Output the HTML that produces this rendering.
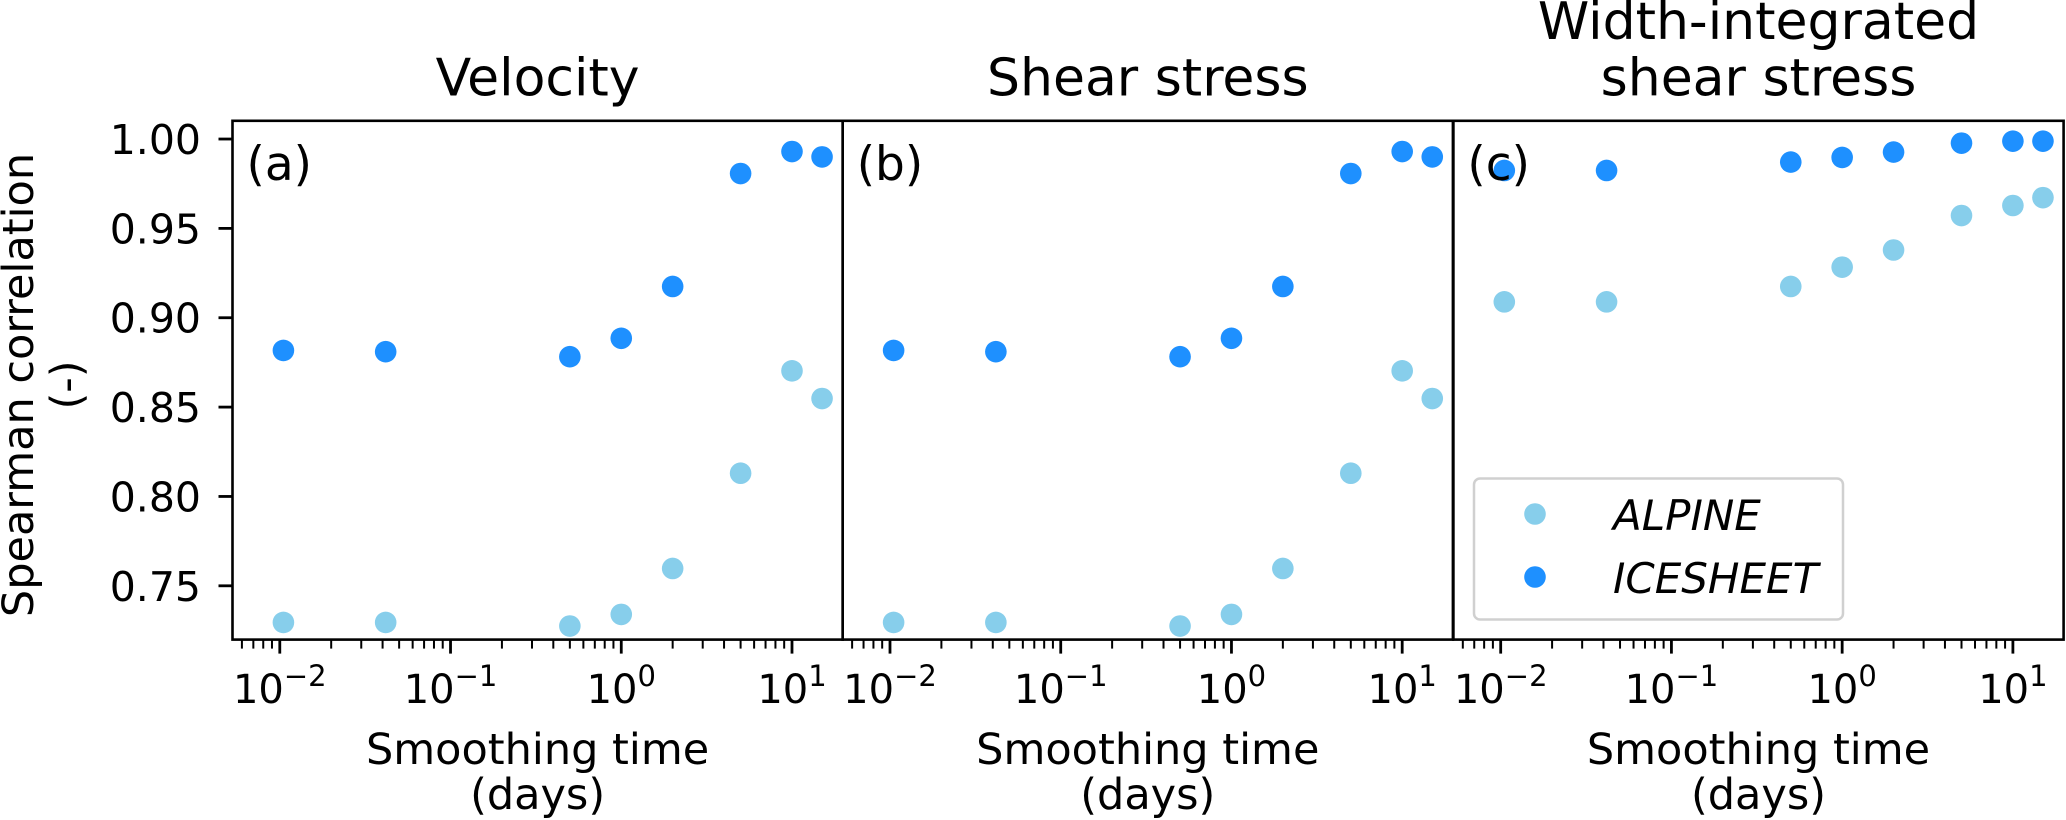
<!DOCTYPE html>
<html><head><meta charset="utf-8">
<style>
html,body{margin:0;padding:0;background:#fff;}
svg{display:block;font-family:"DejaVu Sans","Liberation Sans",sans-serif;}
</style></head>
<body>
<svg id="chart" width="2066" height="820" viewBox="0 0 2066 820" xmlns="http://www.w3.org/2000/svg"></svg>
<script>
// ---- data ----
const smoothingDays = [0.0105, 0.0417, 0.5, 1, 2, 5, 10, 15];
const panelTitles = [["Velocity"], ["Shear stress"], ["Width-integrated", "shear stress"]];
const panelLabels = ["(a)", "(b)", "(c)"];
const alpineVelocity = [0.7295, 0.7295, 0.7275, 0.734, 0.7597, 0.813, 0.8703, 0.8548];
const icesheetVelocity = [0.8817, 0.881, 0.8782, 0.8885, 0.9175, 0.9807, 0.993, 0.990];
const alpineShear = [0.7295, 0.7295, 0.7275, 0.734, 0.7597, 0.813, 0.8703, 0.8548];
const icesheetShear = [0.8817, 0.881, 0.8782, 0.8885, 0.9175, 0.9807, 0.993, 0.990];
const alpineWidth = [0.9089, 0.9089, 0.9175, 0.9283, 0.9379, 0.9572, 0.9628, 0.9672];
const icesheetWidth = [0.9824, 0.9824, 0.9871, 0.9897, 0.9927, 0.9977, 0.9988, 0.9988];
const yTicks = [0.75, 0.80, 0.85, 0.90, 0.95, 1.00];
const yTickLabels = ["0.75", "0.80", "0.85", "0.90", "0.95", "1.00"];
const xTickExps = [-2, -1, 0, 1];
const seriesNames = ["ALPINE", "ICESHEET"];
const seriesColors = ["#87CEEB", "#1E90FF"];

const NS = "http://www.w3.org/2000/svg";
const svg = document.getElementById("chart");
function mk(tag, attrs, parent) {
  const e = document.createElementNS(NS, tag);
  for (const k in attrs) e.setAttribute(k, attrs[k]);
  (parent || svg).appendChild(e);
  return e;
}
const panelLefts = [232.5, 842.7, 1453.4];
const pw = 610.2, plotTop = 120.8, plotBottom = 639.6;
const xMin = -2.277, xMax = 1.297, yMin = 0.7199, yMax = 1.0102;
const yScale = v => plotBottom - (v - yMin) / (yMax - yMin) * (plotBottom - plotTop);
const panelData = [[alpineVelocity, icesheetVelocity], [alpineShear, icesheetShear], [alpineWidth, icesheetWidth]];

panelLefts.forEach((L, p) => {
  const xScale = d => L + (Math.log10(d) - xMin) / (xMax - xMin) * pw;
  const g = mk("g", {});
  
  
  const lines = panelTitles[p];
  lines.forEach((t, i) => {
    const tt = mk("text", {x: L + pw / 2, y: 95.7 - (lines.length - 1 - i) * 56.7, "text-anchor": "middle", "font-size": "52"}, g);
    tt.textContent = t;
    
    
  });
  for (let e = -3; e <= 1; e++) {
    for (let m = 2; m <= 9; m++) {
      const lv = e + Math.log10(m);
      if (lv < xMin || lv > xMax) continue;
      const x = xScale(Math.pow(10, lv));
      const t = mk("line", {x1: x, x2: x, y1: plotBottom, y2: plotBottom + 9, stroke: "#000", "stroke-width": 2}, g);
      
      
    }
  }
  xTickExps.forEach(e => {
    const x = xScale(Math.pow(10, e));
    const t = mk("line", {x1: x, x2: x, y1: plotBottom, y2: plotBottom + 14, stroke: "#000", "stroke-width": 2.8}, g);
    
    
    const lab = mk("text", {x: x, y: 703, "text-anchor": "middle", "font-size": "40"}, g);
    
    
    const b = mk("tspan", {}, lab); b.textContent = "10";
    const s = mk("tspan", {dy: -17, "font-size": "29"}, lab); s.textContent = e < 0 ? "\u2212" + (-e) : String(e);
  });
  if (p === 0) {
    yTicks.forEach((v, i) => {
      const y = yScale(v);
      const t = mk("line", {x1: L - 14, x2: L, y1: y, y2: y, stroke: "#000", "stroke-width": 2.8}, g);
      
      
      const lab = mk("text", {x: 201, y: y + 15, "text-anchor": "end", "font-size": "41"}, g);
      lab.textContent = yTickLabels[i];
      
      
    });
  }
  panelData[p].forEach((series, si) => {
    series.forEach((v, i) => {
      const c = mk("circle", {cx: xScale(smoothingDays[i]), cy: yScale(v), r: 10.8, fill: seriesColors[si]}, g);
      
      
    });
  });
  const pl = mk("text", {x: L + 14, y: 180, "font-size": "47"}, g);
  pl.textContent = panelLabels[p];
  
  
  const fr = mk("rect", {x: L, y: plotTop, width: pw, height: plotBottom - plotTop, fill: "none", stroke: "#000", "stroke-width": 2.6}, g);
  
  
  const xl1 = mk("text", {x: L + pw / 2, y: 764, "text-anchor": "middle", "font-size": "43"}, g);
  xl1.textContent = "Smoothing time";
  
  
  const xl2 = mk("text", {x: L + pw / 2, y: 809, "text-anchor": "middle", "font-size": "43"}, g);
  xl2.textContent = "(days)";
  
  
});

const yl = mk("text", {transform: "translate(33,385) rotate(-90)", "text-anchor": "middle", "font-size": "43"});
yl.textContent = "Spearman correlation";


const yl2 = mk("text", {transform: "translate(81,385) rotate(-90)", "text-anchor": "middle", "font-size": "43"});
yl2.textContent = "(-)";



const lg = mk("g", {});


const lb = mk("rect", {x: 1474, y: 478.5, width: 369, height: 141, rx: 6, fill: "#fff", stroke: "#d0d0d0", "stroke-width": 2.5}, lg);


seriesNames.forEach((n, i) => {
  const cy = 514 + i * 63;
  const c = mk("circle", {cx: 1535, cy: cy, r: 10.8, fill: seriesColors[i]}, lg);
  
  
  const t = mk("text", {x: 1613, y: cy + 16, "font-size": "42", "font-style": "italic"}, lg);
  t.textContent = n;
  
  
});
</script>
</body></html>
